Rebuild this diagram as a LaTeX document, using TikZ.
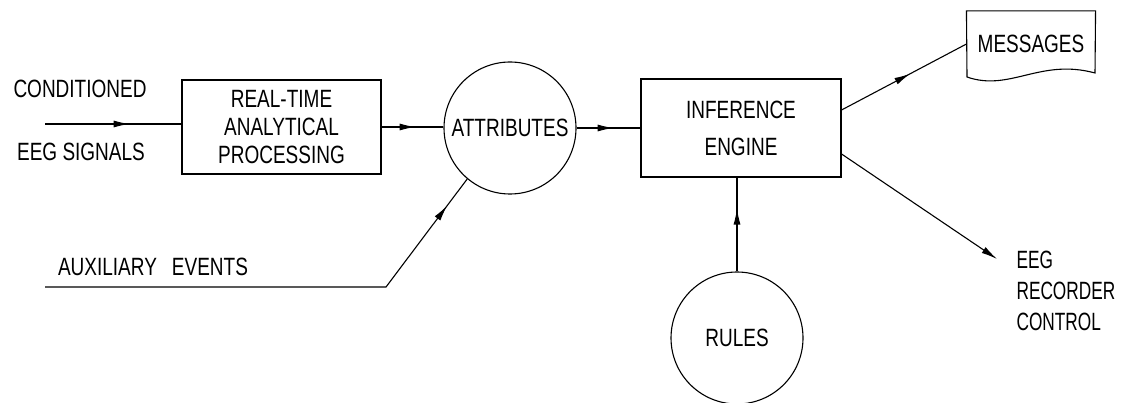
\documentclass[tikz,border=0pt]{standalone}
\usepackage{fontspec}
\setmainfont{Liberation Sans}[FakeStretch=0.76]
\newfontfamily\narrowlbl{Liberation Sans}[FakeStretch=0.69]
\usetikzlibrary{arrows.meta,decorations.markings}

\begin{document}
\begin{tikzpicture}[x=1pt,y=-1pt,line width=1.1pt,
  lbl/.style={font=\fontsize{25}{28}\selectfont,inner sep=0pt},
  box/.style={draw,rectangle,lbl,align=center},
  disc/.style={draw,circle,lbl,inner sep=0pt,minimum size=132pt},
  headtip/.style={-{Latex[length=16pt,width=7pt]}},
  midarrow/.style={postaction={decorate},
    decoration={markings,mark=at position #1 with {\arrow{Latex[length=16pt,width=7pt]}}}}
]
\useasboundingbox (0,0) rectangle (1121,403);

% processing blocks
\node[box,minimum width=199pt,minimum height=94pt] (rtap) at (281.5,127)
  {REAL-TIME\\ANALYTICAL\\PROCESSING};
\node[disc] (attr) at (510,128) {ATTRIBUTES};
\node[box,minimum width=200pt,minimum height=98pt,
      font=\fontsize{25}{37}\selectfont] (ie) at (741,128)
  {INFERENCE\\ENGINE};
\node[disc] (rules) at (737,338) {RULES};

% output document
\node[lbl,minimum width=128pt,minimum height=65pt] (msg) at (1031,44) {MESSAGES};
\draw (msg.north west) -- (msg.north east) -- (1095,73)
  .. controls (1040,58) and (1010,92) .. (967,77) -- cycle;

% free labels
\node[lbl] (cond) at (80,89) {CONDITIONED};
\node[lbl] (sig) at (81,152) {EEG SIGNALS};
\node[lbl] (aux) at (153,267) {AUXILIARY\hspace{0.6em}EVENTS};
\node[lbl,anchor=west,align=left,font=\narrowlbl\fontsize{25}{31}\selectfont]
  (ctl) at (1016,291) {EEG\\RECORDER\\CONTROL};

% connector end points
\coordinate (in) at (45,124);
\coordinate (auxstart) at (45,287);
\coordinate (auxbend) at (386,287);
\coordinate (ctltip) at (997,259);

% connectors
\draw[midarrow=0.62] (in) -- (in -| rtap.west);
\draw[midarrow=0.55] (rtap.east) -- (rtap.east -| attr.west);
\draw[midarrow=0.58] (attr.east) -- (ie.west);
\draw[midarrow=0.93] (auxstart) -- (auxbend) -- (attr.230);
\draw[midarrow=0.55] ([yshift=18pt]ie.east) -- (msg.west);
\draw[headtip] ([yshift=-26pt]ie.east) -- (ctltip);
\draw[midarrow=0.67] (rules.north) -- (rules.north |- ie.south);
\end{tikzpicture}
\end{document}
